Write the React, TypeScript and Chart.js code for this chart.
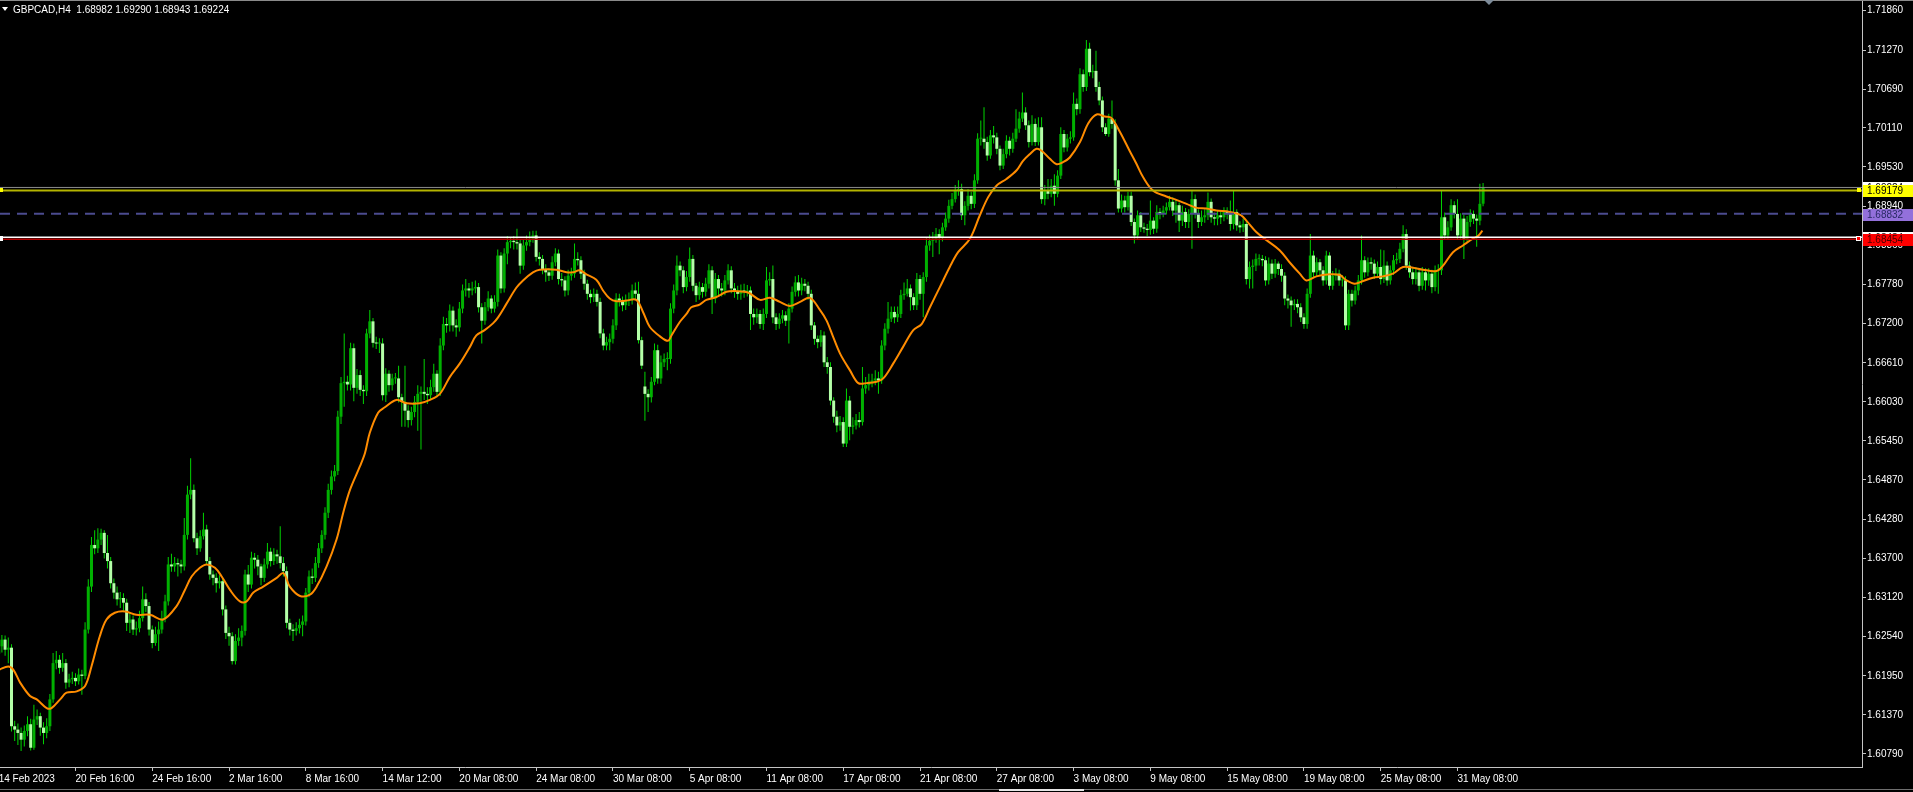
import React, { useEffect, useRef } from "react";
import { Chart, registerables } from "chart.js";

Chart.register(...registerables);

// ---------------- data (GBPCAD H4) ----------------
const symbolLabel = "GBPCAD,H4";

const opens = [
1.6228,1.6239,1.6249,1.6234,1.6237,1.6120,1.6115,1.6110,1.6100,1.6113,
1.6123,1.6088,1.6130,1.6135,1.6118,1.6110,1.6120,1.6160,1.6214,1.6219,
1.6207,1.6214,1.6185,1.6190,1.6192,1.6187,1.6197,1.6195,1.6264,1.6328,
1.6390,1.6385,1.6398,1.6408,1.6378,1.6366,1.6333,1.6319,1.6309,1.6311,
1.6304,1.6274,1.6279,1.6264,1.6266,1.6281,1.6309,1.6299,1.6264,1.6244,
1.6257,1.6264,1.6281,1.6306,1.6361,1.6358,1.6363,1.6361,1.6358,1.6405,
1.6465,1.6472,1.6400,1.6385,1.6403,1.6413,1.6366,1.6346,1.6341,1.6333,
1.6336,1.6294,1.6259,1.6254,1.6217,1.6247,1.6252,1.6262,1.6346,1.6331,
1.6371,1.6368,1.6358,1.6341,1.6361,1.6380,1.6366,1.6376,1.6373,1.6363,
1.6351,1.6274,1.6264,1.6262,1.6266,1.6271,1.6276,1.6319,1.6343,1.6341,
1.6363,1.6385,1.6405,1.6438,1.6472,1.6492,1.6500,1.6581,1.6631,1.6633,
1.6629,1.6683,1.6624,1.6643,1.6621,1.6619,1.6705,1.6723,1.6691,1.6690,
1.6690,1.6613,1.6645,1.6628,1.6638,1.6638,1.6610,1.6603,1.6590,1.6576,
1.6588,1.6603,1.6615,1.6618,1.6615,1.6613,1.6625,1.6645,1.6618,1.6687,
1.6719,1.6717,1.6739,1.6717,1.6714,1.6742,1.6769,1.6772,1.6769,1.6772,
1.6774,1.6744,1.6724,1.6744,1.6757,1.6742,1.6752,1.6821,1.6772,1.6824,
1.6841,1.6843,1.6841,1.6839,1.6806,1.6836,1.6841,1.6846,1.6851,1.6819,
1.6816,1.6801,1.6796,1.6791,1.6811,1.6824,1.6786,1.6784,1.6769,1.6791,
1.6794,1.6816,1.6814,1.6794,1.6779,1.6764,1.6759,1.6764,1.6752,1.6705,
1.6687,1.6692,1.6697,1.6717,1.6757,1.6754,1.6747,1.6754,1.6755,1.6769,
1.6764,1.6695,1.6626,1.6615,1.6610,1.6633,1.6680,1.6638,1.6662,1.6667,
1.6667,1.6742,1.6769,1.6806,1.6799,1.6774,1.6789,1.6816,1.6776,1.6762,
1.6774,1.6767,1.6779,1.6799,1.6757,1.6786,1.6772,1.6769,1.6784,1.6799,
1.6772,1.6767,1.6764,1.6769,1.6767,1.6769,1.6734,1.6729,1.6734,1.6719,
1.6734,1.6784,1.6786,1.6729,1.6719,1.6727,1.6732,1.6724,1.6742,1.6767,
1.6781,1.6769,1.6779,1.6776,1.6764,1.6717,1.6697,1.6692,1.6702,1.6662,
1.6655,1.6605,1.6581,1.6568,1.6573,1.6541,1.6605,1.6566,1.6568,1.6576,
1.6573,1.6623,1.6628,1.6633,1.6635,1.6638,1.6635,1.6687,1.6712,1.6727,
1.6737,1.6729,1.6734,1.6762,1.6764,1.6772,1.6759,1.6747,1.6786,1.6764,
1.6789,1.6836,1.6843,1.6846,1.6853,1.6848,1.6863,1.6876,1.6895,1.6905,
1.6918,1.6920,1.6881,1.6895,1.6910,1.6898,1.6933,1.6995,1.6995,1.6990,
1.6970,1.7000,1.6997,1.6980,1.6955,1.6972,1.6992,1.6980,1.6995,1.7010,
1.7025,1.7034,1.7015,1.6990,1.7017,1.6990,1.7012,1.6905,1.6918,1.6913,
1.6925,1.6913,1.6940,1.7002,1.6982,1.6995,1.6997,1.7047,1.7039,1.7091,
1.7072,1.7129,1.7094,1.7096,1.7072,1.7052,1.7012,1.7002,1.7025,1.7017,
1.6933,1.6891,1.6903,1.6893,1.6910,1.6871,1.6851,1.6881,1.6863,1.6861,
1.6859,1.6873,1.6861,1.6886,1.6883,1.6888,1.6893,1.6901,1.6888,1.6896,
1.6873,1.6886,1.6871,1.6883,1.6905,1.6883,1.6871,1.6878,1.6881,1.6901,
1.6878,1.6876,1.6881,1.6878,1.6886,1.6883,1.6868,1.6886,1.6866,1.6863,
1.6868,1.6786,1.6804,1.6806,1.6816,1.6816,1.6814,1.6784,1.6809,1.6794,
1.6809,1.6801,1.6791,1.6757,1.6754,1.6747,1.6749,1.6744,1.6729,1.6719,
1.6764,1.6821,1.6796,1.6811,1.6799,1.6784,1.6821,1.6776,1.6791,1.6794,
1.6784,1.6784,1.6717,1.6764,1.6754,1.6769,1.6784,1.6814,1.6796,1.6811,
1.6809,1.6794,1.6804,1.6786,1.6806,1.6784,1.6799,1.6814,1.6816,1.6831,
1.6853,1.6806,1.6796,1.6786,1.6796,1.6776,1.6796,1.6784,1.6794,1.6774,
1.6799,1.6799,1.6878,1.6851,1.6863,1.6896,1.6883,1.6851,1.6876,1.6846,
1.6871,1.6883,1.6876,1.6873,1.68982
];

const highs = [
1.6259,1.6256,1.6255,1.6252,1.6242,1.6128,1.6124,1.6118,1.6121,1.6135,
1.6131,1.6152,1.6145,1.6140,1.6126,1.6132,1.6168,1.6229,1.6232,1.6226,
1.6229,1.6220,1.6198,1.6201,1.6199,1.6206,1.6204,1.6275,1.6339,1.6402,
1.6412,1.6415,1.6414,1.6412,1.6405,1.6372,1.6340,1.6328,1.6320,1.6318,
1.6310,1.6290,1.6285,1.6276,1.6292,1.6328,1.6318,1.6305,1.6270,1.6268,
1.6276,1.6292,1.6316,1.6372,1.6377,1.6372,1.6370,1.6368,1.6430,1.6478,
1.6519,1.6480,1.6408,1.6412,1.6438,1.6420,1.6372,1.6352,1.6348,1.6345,
1.6340,1.6300,1.6268,1.6260,1.6257,1.6266,1.6270,1.6353,1.6360,1.6380,
1.6378,1.6375,1.6362,1.6370,1.6393,1.6386,1.6385,1.6383,1.6418,1.6372,
1.6358,1.6280,1.6272,1.6275,1.6280,1.6285,1.6326,1.6352,1.6355,1.6372,
1.6393,1.6412,1.6446,1.6481,1.6501,1.6509,1.6590,1.6640,1.6705,1.6642,
1.6691,1.6690,1.6652,1.6650,1.6628,1.6712,1.6740,1.6728,1.6700,1.6698,
1.6698,1.6653,1.6650,1.6645,1.6646,1.6657,1.6615,1.6657,1.6598,1.6596,
1.6612,1.6628,1.6626,1.6667,1.6625,1.6636,1.6660,1.6650,1.6698,1.6730,
1.6728,1.6748,1.6745,1.6726,1.6752,1.6778,1.6786,1.6780,1.6782,1.6784,
1.6780,1.6750,1.6752,1.6768,1.6762,1.6762,1.6830,1.6826,1.6832,1.6850,
1.6848,1.6850,1.6861,1.6845,1.6845,1.6851,1.6857,1.6858,1.6858,1.6826,
1.6822,1.6808,1.6802,1.6820,1.6832,1.6830,1.6795,1.6790,1.6800,1.6803,
1.6839,1.6826,1.6820,1.6800,1.6785,1.6770,1.6772,1.6770,1.6758,1.6712,
1.6700,1.6705,1.6726,1.6765,1.6764,1.6760,1.6763,1.6766,1.6778,1.6781,
1.6782,1.6700,1.6648,1.6622,1.6640,1.6690,1.6688,1.6672,1.6675,1.6677,
1.6750,1.6778,1.6821,1.6812,1.6805,1.6798,1.6833,1.6822,1.6780,1.6782,
1.6780,1.6788,1.6808,1.6805,1.6795,1.6792,1.6780,1.6792,1.6808,1.6805,
1.6780,1.6776,1.6778,1.6779,1.6777,1.6775,1.6742,1.6742,1.6740,1.6742,
1.6804,1.6796,1.6806,1.6735,1.6735,1.6740,1.6738,1.6750,1.6775,1.6790,
1.6792,1.6788,1.6786,1.6782,1.6770,1.6722,1.6702,1.6710,1.6708,1.6670,
1.6662,1.6610,1.6590,1.6582,1.6580,1.6623,1.6612,1.6580,1.6585,1.6588,
1.6655,1.6640,1.6645,1.6645,1.6650,1.6648,1.6695,1.6720,1.6752,1.6745,
1.6745,1.6745,1.6770,1.6781,1.6786,1.6778,1.6765,1.6795,1.6792,1.6796,
1.6848,1.6852,1.6856,1.6862,1.6860,1.6870,1.6885,1.6904,1.6914,1.6926,
1.6933,1.6928,1.6902,1.6920,1.6916,1.6942,1.7003,1.7022,1.7042,1.6998,
1.7008,1.7014,1.7004,1.6985,1.6980,1.7000,1.6998,1.7004,1.7039,1.7035,
1.7064,1.7042,1.7022,1.7030,1.7025,1.7027,1.7027,1.6926,1.6935,1.6935,
1.6942,1.6948,1.7012,1.7008,1.7002,1.7006,1.7064,1.7055,1.7100,1.7098,
1.7142,1.7138,1.7105,1.7126,1.7080,1.7058,1.7018,1.7032,1.7052,1.7024,
1.6950,1.6912,1.6910,1.6916,1.6916,1.6876,1.6888,1.6886,1.6870,1.6868,
1.6903,1.6878,1.6896,1.6892,1.6895,1.6900,1.6910,1.6908,1.6905,1.6900,
1.6895,1.6892,1.6890,1.6918,1.6912,1.6890,1.6888,1.6890,1.6915,1.6906,
1.6885,1.6888,1.6888,1.6893,1.6893,1.6903,1.6918,1.6890,1.6872,1.6876,
1.6873,1.6812,1.6815,1.6824,1.6823,1.6822,1.6820,1.6818,1.6815,1.6816,
1.6812,1.6808,1.6796,1.6763,1.6760,1.6756,1.6756,1.6750,1.6735,1.6772,
1.6853,1.6828,1.6818,1.6816,1.6805,1.6828,1.6826,1.6798,1.6802,1.6800,
1.6792,1.6790,1.6770,1.6770,1.6776,1.6792,1.6851,1.6820,1.6818,1.6818,
1.6815,1.6812,1.6830,1.6829,1.6812,1.6806,1.6822,1.6825,1.6840,1.6866,
1.6860,1.6812,1.6802,1.6804,1.6800,1.6804,1.6802,1.6802,1.6800,1.6806,
1.6808,1.6918,1.6885,1.6872,1.6905,1.6902,1.6905,1.6884,1.6882,1.6880,
1.6890,1.6888,1.6882,1.6928,1.69290
];

const lows = [
1.6218,1.6230,1.6225,1.6214,1.6112,1.6098,1.6092,1.6083,1.6090,1.6105,
1.6084,1.6085,1.6122,1.6106,1.6093,1.6102,1.6113,1.6155,1.6205,1.6198,
1.6201,1.6176,1.6178,1.6183,1.6180,1.6182,1.6167,1.6190,1.6258,1.6320,
1.6376,1.6378,1.6390,1.6370,1.6355,1.6325,1.6310,1.6300,1.6296,1.6292,
1.6262,1.6259,1.6256,1.6255,1.6260,1.6276,1.6290,1.6255,1.6236,1.6240,
1.6232,1.6258,1.6275,1.6300,1.6350,1.6350,1.6343,1.6348,1.6352,1.6398,
1.6458,1.6394,1.6375,1.6380,1.6398,1.6360,1.6338,1.6330,1.6319,1.6325,
1.6285,1.6250,1.6240,1.6212,1.6212,1.6240,1.6239,1.6255,1.6320,1.6325,
1.6355,1.6345,1.6330,1.6335,1.6355,1.6358,1.6360,1.6362,1.6355,1.6343,
1.6266,1.6255,1.6247,1.6255,1.6258,1.6254,1.6270,1.6312,1.6332,1.6335,
1.6356,1.6378,1.6398,1.6430,1.6465,1.6485,1.6494,1.6570,1.6596,1.6620,
1.6620,1.6604,1.6615,1.6612,1.6600,1.6612,1.6698,1.6684,1.6682,1.6676,
1.6605,1.6603,1.6618,1.6620,1.6630,1.6602,1.6566,1.6566,1.6565,1.6568,
1.6580,1.6560,1.6532,1.6606,1.6600,1.6606,1.6618,1.6610,1.6612,1.6680,
1.6706,1.6708,1.6708,1.6700,1.6708,1.6735,1.6760,1.6758,1.6762,1.6765,
1.6736,1.6690,1.6718,1.6738,1.6735,1.6736,1.6745,1.6765,1.6766,1.6808,
1.6832,1.6830,1.6830,1.6794,1.6800,1.6828,1.6835,1.6840,1.6812,1.6806,
1.6793,1.6782,1.6783,1.6785,1.6805,1.6778,1.6775,1.6760,1.6762,1.6784,
1.6788,1.6806,1.6786,1.6770,1.6755,1.6750,1.6752,1.6745,1.6698,1.6680,
1.6680,1.6680,1.6690,1.6710,1.6745,1.6738,1.6740,1.6746,1.6748,1.6755,
1.6690,1.6652,1.6575,1.6588,1.6602,1.6628,1.6630,1.6630,1.6655,1.6650,
1.6660,1.6735,1.6762,1.6790,1.6765,1.6768,1.6782,1.6768,1.6752,1.6755,
1.6758,1.6760,1.6772,1.6734,1.6750,1.6762,1.6760,1.6762,1.6778,1.6765,
1.6758,1.6755,1.6755,1.6758,1.6760,1.6710,1.6718,1.6720,1.6712,1.6710,
1.6728,1.6776,1.6720,1.6710,1.6712,1.6720,1.6716,1.6690,1.6736,1.6760,
1.6760,1.6762,1.6768,1.6755,1.6710,1.6688,1.6683,1.6685,1.6655,1.6645,
1.6598,1.6572,1.6558,1.6560,1.6536,1.6536,1.6546,1.6555,1.6562,1.6565,
1.6568,1.6615,1.6620,1.6625,1.6628,1.6615,1.6630,1.6680,1.6705,1.6722,
1.6720,1.6722,1.6728,1.6755,1.6760,1.6739,1.6740,1.6740,1.6755,1.6729,
1.6782,1.6828,1.6819,1.6840,1.6823,1.6842,1.6858,1.6870,1.6890,1.6900,
1.6910,1.6874,1.6866,1.6888,1.6890,1.6892,1.6928,1.6985,1.6980,1.6962,
1.6965,1.6988,1.6972,1.6948,1.6950,1.6966,1.6970,1.6974,1.6990,1.7004,
1.7020,1.7008,1.6982,1.6985,1.6984,1.6985,1.6898,1.6896,1.6905,1.6908,
1.6895,1.6908,1.6935,1.6975,1.6976,1.6988,1.6992,1.7030,1.7032,1.7065,
1.7066,1.7088,1.7085,1.7065,1.7045,1.7005,1.6999,1.6998,1.7010,1.6925,
1.6885,1.6885,1.6885,1.6888,1.6865,1.6839,1.6846,1.6856,1.6855,1.6850,
1.6852,1.6853,1.6855,1.6875,1.6878,1.6882,1.6888,1.6880,1.6870,1.6856,
1.6865,1.6862,1.6862,1.6831,1.6876,1.6862,1.6865,1.6870,1.6874,1.6870,
1.6866,1.6866,1.6868,1.6872,1.6875,1.6858,1.6860,1.6858,1.6855,1.6856,
1.6778,1.6772,1.6772,1.6798,1.6806,1.6805,1.6776,1.6778,1.6786,1.6788,
1.6792,1.6782,1.6747,1.6742,1.6715,1.6740,1.6735,1.6722,1.6712,1.6712,
1.6758,1.6788,1.6790,1.6792,1.6776,1.6778,1.6770,1.6770,1.6784,1.6776,
1.6775,1.6710,1.6710,1.6745,1.6748,1.6762,1.6778,1.6788,1.6790,1.6800,
1.6786,1.6788,1.6778,1.6780,1.6776,1.6778,1.6792,1.6808,1.6810,1.6826,
1.6800,1.6788,1.6778,1.6778,1.6768,1.6770,1.6769,1.6776,1.6765,1.6768,
1.6764,1.6792,1.6844,1.6845,1.6858,1.6876,1.6844,1.6845,1.6816,1.6840,
1.6864,1.6868,1.6834,1.6866,1.68943
];

const closes = [
1.6239,1.6249,1.6234,1.6237,1.6120,1.6115,1.6110,1.6100,1.6113,1.6123,
1.6088,1.6130,1.6135,1.6118,1.6110,1.6120,1.6160,1.6214,1.6219,1.6207,
1.6214,1.6185,1.6190,1.6192,1.6187,1.6197,1.6195,1.6264,1.6328,1.6390,
1.6385,1.6398,1.6408,1.6378,1.6366,1.6333,1.6319,1.6309,1.6311,1.6304,
1.6274,1.6279,1.6264,1.6266,1.6281,1.6309,1.6299,1.6264,1.6244,1.6257,
1.6264,1.6281,1.6306,1.6361,1.6358,1.6363,1.6361,1.6358,1.6405,1.6465,
1.6472,1.6400,1.6385,1.6403,1.6413,1.6366,1.6346,1.6341,1.6333,1.6336,
1.6294,1.6259,1.6254,1.6217,1.6247,1.6252,1.6262,1.6346,1.6331,1.6371,
1.6368,1.6358,1.6341,1.6361,1.6380,1.6366,1.6376,1.6373,1.6363,1.6351,
1.6274,1.6264,1.6262,1.6266,1.6271,1.6276,1.6319,1.6343,1.6341,1.6363,
1.6385,1.6405,1.6438,1.6472,1.6492,1.6500,1.6581,1.6631,1.6633,1.6629,
1.6683,1.6624,1.6643,1.6621,1.6619,1.6705,1.6723,1.6691,1.6690,1.6690,
1.6613,1.6645,1.6628,1.6638,1.6638,1.6610,1.6603,1.6590,1.6576,1.6588,
1.6603,1.6615,1.6618,1.6615,1.6613,1.6625,1.6645,1.6618,1.6687,1.6719,
1.6717,1.6739,1.6717,1.6714,1.6742,1.6769,1.6772,1.6769,1.6772,1.6774,
1.6744,1.6724,1.6744,1.6757,1.6742,1.6752,1.6821,1.6772,1.6824,1.6841,
1.6843,1.6841,1.6839,1.6806,1.6836,1.6841,1.6846,1.6851,1.6819,1.6816,
1.6801,1.6796,1.6791,1.6811,1.6824,1.6786,1.6784,1.6769,1.6791,1.6794,
1.6816,1.6814,1.6794,1.6779,1.6764,1.6759,1.6764,1.6752,1.6705,1.6687,
1.6692,1.6697,1.6717,1.6757,1.6754,1.6747,1.6754,1.6755,1.6769,1.6764,
1.6695,1.6657,1.6615,1.6610,1.6633,1.6680,1.6638,1.6662,1.6667,1.6667,
1.6742,1.6769,1.6806,1.6799,1.6774,1.6789,1.6816,1.6776,1.6762,1.6774,
1.6767,1.6779,1.6799,1.6757,1.6786,1.6772,1.6769,1.6784,1.6799,1.6772,
1.6767,1.6764,1.6769,1.6767,1.6769,1.6734,1.6729,1.6734,1.6719,1.6734,
1.6784,1.6786,1.6729,1.6719,1.6727,1.6732,1.6724,1.6742,1.6767,1.6781,
1.6769,1.6779,1.6776,1.6764,1.6717,1.6697,1.6692,1.6702,1.6662,1.6655,
1.6605,1.6581,1.6568,1.6573,1.6541,1.6605,1.6566,1.6568,1.6576,1.6573,
1.6623,1.6628,1.6633,1.6635,1.6638,1.6635,1.6687,1.6712,1.6727,1.6737,
1.6729,1.6734,1.6762,1.6764,1.6772,1.6759,1.6747,1.6786,1.6764,1.6789,
1.6836,1.6843,1.6846,1.6853,1.6848,1.6863,1.6876,1.6895,1.6905,1.6918,
1.6920,1.6881,1.6895,1.6910,1.6898,1.6933,1.6995,1.6995,1.6990,1.6970,
1.7000,1.6997,1.6980,1.6955,1.6972,1.6992,1.6980,1.6995,1.7010,1.7025,
1.7034,1.7015,1.6990,1.7017,1.6990,1.7012,1.6905,1.6918,1.6913,1.6925,
1.6913,1.6940,1.7002,1.6982,1.6995,1.6997,1.7047,1.7039,1.7091,1.7072,
1.7129,1.7094,1.7096,1.7072,1.7052,1.7012,1.7002,1.7025,1.7017,1.6933,
1.6891,1.6903,1.6893,1.6910,1.6871,1.6851,1.6881,1.6863,1.6861,1.6859,
1.6873,1.6861,1.6886,1.6883,1.6888,1.6893,1.6901,1.6888,1.6896,1.6873,
1.6886,1.6871,1.6883,1.6905,1.6883,1.6871,1.6878,1.6881,1.6901,1.6878,
1.6876,1.6881,1.6878,1.6886,1.6883,1.6868,1.6886,1.6866,1.6863,1.6868,
1.6786,1.6804,1.6806,1.6816,1.6816,1.6814,1.6784,1.6809,1.6794,1.6809,
1.6801,1.6791,1.6757,1.6754,1.6747,1.6749,1.6744,1.6729,1.6719,1.6764,
1.6821,1.6796,1.6811,1.6799,1.6784,1.6821,1.6776,1.6791,1.6794,1.6784,
1.6784,1.6717,1.6764,1.6754,1.6769,1.6784,1.6814,1.6796,1.6811,1.6809,
1.6794,1.6804,1.6786,1.6806,1.6784,1.6799,1.6814,1.6816,1.6831,1.6853,
1.6806,1.6796,1.6786,1.6796,1.6776,1.6796,1.6784,1.6794,1.6774,1.6799,
1.6799,1.6878,1.6851,1.6863,1.6896,1.6883,1.6851,1.6876,1.6846,1.6871,
1.6883,1.6876,1.6873,1.6898,1.69224
];

// moving average, read at bar positions
const maIndex = [
0,3,4.6,6.7,9.8,11.9,15,16.5,19.2,21.2,24.4,27,29,31.6,33.7,36.3,39.5,43,47.3,51.4,
55.6,58.2,60.3,62.9,65,67.6,69.7,72.3,75.4,77.5,79.6,82.7,86.9,89,91,94.2,97.3,99.4,102.5,105.6,
107.7,109.8,112.9,114.5,116,118.6,
120.7,124.3,127.5,131.6,134.8,137.9,141,144.1,147.3,149.3,151.9,154.5,156.1,158.7,161.8,163.9,167,169.1,174.3,177.5,
179.5,181.6,183.7,186.8,188.9,191,193.1,196.2,199.3,201.4,203.5,206.6,209.2,210.3,212.9,215,216.5,219.1,221.2,224.3,
227.5,230.6,234.2,
238,241.1,244.2,247.3,250.5,253.6,256.7,258.8,260.9,263,266.1,268.7,271.3,274.4,276.5,279.6,282.7,285.9,288.5,291.1,
294.2,297.3,299.9,303.6,306.7,309.3,311.9,315,318.2,320.2,322.3,324.4,326,328.6,330.7,332.7,334.8,338,340.6,343.2,
345.8,347.8,350.5,
353.5,355.6,357.7,360.8,365,368.1,371.3,374.4,377.5,380.6,384.8,388.4,390,393.1,396.3,400.4,403.5,406.7,408.8,411.9,
416,419.2,421.3,423.9,426.5,429.6,432.7,435.8,439,442.1,445.2,449.4,451.5,454.6,457.7,460.8,462.4,463.8
];
const maValues = [
1.6204,1.6209,1.6204,1.6185,1.6165,1.6160,1.6147,1.6147,1.6160,1.6170,1.6172,1.6180,1.6209,1.6254,1.6279,1.6289,1.6291,1.6286,1.6286,1.6279,
1.6299,1.6323,1.6343,1.6356,1.6361,1.6356,1.6343,1.6323,1.6306,1.6306,1.6319,1.6328,1.6341,1.6348,1.6328,1.6314,1.6316,1.6328,1.6358,1.6398,
1.6438,1.6472,1.6507,1.6527,1.6557,1.6587,
1.6595,1.6606,1.6601,1.6601,1.6606,1.6615,1.6640,1.6660,1.6685,1.6702,1.6710,1.6720,1.6729,1.6749,1.6773,1.6784,1.6796,1.6800,1.6800,1.6796,
1.6796,1.6799,1.6793,1.6785,1.6769,1.6757,1.6753,1.6754,1.6755,1.6737,1.6715,1.6701,1.6694,1.6702,1.6722,1.6734,1.6744,1.6748,1.6755,1.6759,
1.6767,1.6768,1.6766,
1.6755,1.6758,1.6752,1.6746,1.6752,1.6758,1.6740,1.6724,1.6699,1.6675,1.6650,1.6631,1.6631,1.6633,1.6638,1.6660,1.6685,1.6710,1.6719,1.6744,
1.6774,1.6804,1.6826,1.6846,1.6881,1.6908,1.6925,1.6935,1.6948,1.6962,1.6972,1.6980,1.6977,1.6965,1.6957,1.6960,1.6967,1.6990,1.7018,1.7031,
1.7028,1.7026,1.7005,
1.6977,1.6958,1.6938,1.6918,1.6909,1.6904,1.6898,1.6892,1.6891,1.6888,1.6886,1.6881,1.6873,1.6856,1.6844,1.6829,1.6811,1.6794,1.6784,1.6790,
1.6793,1.6792,1.6784,1.6779,1.6783,1.6788,1.6790,1.6794,1.6804,1.6803,1.6800,1.6798,1.6806,1.6826,1.6836,1.6846,1.6850,1.6858
];

const priceTicks = [
1.7186,1.7127,1.7069,1.7011,1.6953,1.6894,1.6836,1.6778,1.672,1.6661,
1.6603,1.6545,1.6487,1.6428,1.637,1.6312,1.6254,1.6195,1.6137,1.6079
];
const timeTickIndex = [0,24,48,72,96,120,144,168,192,216,240,264,288,312,336,360,384,408,432,456];
const timeTickLabels = [
"14 Feb 2023","20 Feb 16:00","24 Feb 16:00","2 Mar 16:00","8 Mar 16:00","14 Mar 12:00",
"20 Mar 08:00","24 Mar 08:00","30 Mar 08:00","5 Apr 08:00","11 Apr 08:00","17 Apr 08:00",
"21 Apr 08:00","27 Apr 08:00","3 May 08:00","9 May 08:00","15 May 08:00","19 May 08:00",
"25 May 08:00","31 May 08:00"
];

const bidLevel = 1.69224;
const yellowLevel = 1.69179;
const dashedLevel = 1.68832;
const whiteLevel = 1.68484;
const redLevel = 1.68454;

// ---------------- layout / style ----------------
const W = 1913;
const H = 792;
const X_MIN = 0.406;
const X_MAX = 582.45;
const Y_MIN = 1.60593;
const Y_MAX = 1.72001;
const FONT = '"Liberation Sans", Arial, sans-serif';
const WICK = "#00d400";
const BULL = "#00b000";
const BEAR = "#b4ffa8";
const AXIS = "#c4c4c4";

const levelLine = (v: number, color: string, width: number, dash: number[] = []) => ({
  type: "line" as const,
  data: [{ x: X_MIN, y: v }, { x: X_MAX, y: v }],
  borderColor: color,
  borderWidth: width,
  borderDash: dash,
  pointRadius: 0,
  order: 0,
});

const overlayPlugin = {
  id: "mtOverlay",
  afterDraw(chart: any) {
    const ctx = chart.ctx as CanvasRenderingContext2D;
    const ys = chart.scales.y;
    const area = chart.chartArea;
    ctx.save();
    // window frame lines
    ctx.fillStyle = "#8a8a8a";
    ctx.fillRect(0, 0, W, 1);
    ctx.fillStyle = "#6e6e6e";
    ctx.fillRect(0, 789, W, 1);
    ctx.fillStyle = "#e6e6e6";
    ctx.fillRect(999, 789, 85, 2);
    // chart shift marker
    ctx.fillStyle = "#7d8b99";
    ctx.beginPath();
    ctx.moveTo(1484, 0);
    ctx.lineTo(1494, 0);
    ctx.lineTo(1489, 5);
    ctx.closePath();
    ctx.fill();

    // price labels on the axis
    const box = (v: number, bg: string, fg: string) => {
      const py = Math.round(ys.getPixelForValue(v));
      ctx.fillStyle = bg;
      ctx.fillRect(area.right + 1, py - 5, W - area.right - 1, 12);
      ctx.fillStyle = fg;
      ctx.font = "10px " + FONT;
      ctx.textBaseline = "middle";
      ctx.textAlign = "left";
      ctx.fillText(v.toFixed(5), area.right + 5, py + 1.5);
    };
    box(bidLevel, "#ffffff", "#000000");
    box(yellowLevel, "#ffff00", "#000000");
    box(dashedLevel, "#9370db", "#2a2a66");
    box(whiteLevel, "#ffffff", "#000000");
    box(redLevel, "#ff0000", "#4a0000");

    // line handles
    const yy = Math.round(ys.getPixelForValue(yellowLevel));
    ctx.fillStyle = "#ffff00";
    ctx.fillRect(0, yy - 2, 3, 4);
    ctx.fillRect(area.right - 5, yy - 2, 4, 4);
    const ry = Math.round(ys.getPixelForValue(redLevel));
    ctx.fillStyle = "#ffffff";
    ctx.fillRect(0, ry - 3, 3, 5);
    ctx.fillRect(area.right - 6, ry - 3, 5, 5);
    ctx.fillStyle = "#ff0000";
    ctx.fillRect(area.right - 5, ry - 2, 3, 3);
    ctx.restore();
  },
};

export default function App() {
  const canvasRef = useRef<HTMLCanvasElement>(null);

  useEffect(() => {
    document.body.style.margin = "0";
    document.body.style.background = "#000";
    const canvas = canvasRef.current;
    if (!canvas) return;

    const bodyColors = closes.map((c, i) => (c >= opens[i] ? BULL : BEAR));

    const chart = new Chart(canvas, {
      type: "bar",
      data: {
        datasets: [
          levelLine(bidLevel, "#8c8c8c", 1),
          levelLine(yellowLevel, "#b4b400", 2),
          levelLine(dashedLevel, "#4b4b8f", 2, [10, 7]),
          levelLine(whiteLevel, "#ffffff", 1.5),
          levelLine(redLevel, "#b40000", 1.5),
          {
            type: "line",
            data: maIndex.map((x, k) => ({ x, y: maValues[k] })),
            borderColor: "#ff8c00",
            borderWidth: 2,
            pointRadius: 0,
            tension: 0.35,
            order: 1,
          } as any,
          {
            type: "bar",
            data: closes.map((c, i) => ({ x: i, y: [opens[i], c] })),
            backgroundColor: bodyColors,
            borderWidth: 0,
            barThickness: 3,
            maxBarThickness: 3,
            minBarLength: 1,
            grouped: false,
            inflateAmount: 0,
            order: 2,
          } as any,
          {
            type: "bar",
            data: closes.map((_, i) => ({ x: i, y: [lows[i], highs[i]] })),
            backgroundColor: WICK,
            borderWidth: 0,
            barThickness: 1,
            maxBarThickness: 1,
            grouped: false,
            inflateAmount: 0,
            order: 3,
          } as any,
        ] as any,
      },
      options: {
        responsive: false,
        animation: false,
        devicePixelRatio: 1,
        events: [],
        layout: { padding: { top: 1, left: 0, right: 0, bottom: 0 } },
        plugins: { legend: { display: false }, tooltip: { enabled: false } },
        scales: {
          x: {
            type: "linear",
            min: X_MIN,
            max: X_MAX,
            offset: false,
            afterBuildTicks: (s: any) => {
              s.ticks = timeTickIndex.map((v) => ({ value: v }));
            },
            afterFit: (s: any) => {
              s.height = 25;
              s.paddingLeft = 0;
              s.paddingRight = 0;
            },
            ticks: {
              color: "#ffffff",
              font: { family: FONT, size: 10 },
              padding: 2,
              autoSkip: false,
              maxRotation: 0,
              minRotation: 0,
              align: "start",
              callback: (_v: any, i: number) => timeTickLabels[i],
            },
            grid: { drawOnChartArea: false, drawTicks: true, tickLength: 4, color: AXIS, offset: false },
            border: { display: true, color: AXIS, width: 1 },
          },
          y: {
            type: "linear",
            position: "right",
            min: Y_MIN,
            max: Y_MAX,
            afterBuildTicks: (s: any) => {
              s.ticks = priceTicks.map((v) => ({ value: v }));
            },
            afterFit: (s: any) => {
              s.width = 51;
              s.paddingTop = 0;
              s.paddingBottom = 0;
            },
            ticks: {
              color: "#ffffff",
              font: { family: FONT, size: 10 },
              padding: 1,
              autoSkip: false,
              callback: (v: any) => Number(v).toFixed(5),
            },
            grid: { drawOnChartArea: false, drawTicks: true, tickLength: 4, color: AXIS },
            border: { display: true, color: AXIS, width: 1 },
          },
        },
      } as any,
      plugins: [overlayPlugin],
    });

    return () => chart.destroy();
  }, []);

  const last = closes.length - 1;
  const headerValues = [opens[last], highs[last], lows[last], closes[last]].map((v) => v.toFixed(5)).join(" ");

  return (
    <div style={{ position: "fixed", left: 0, top: 0, width: W, height: H, background: "#000", overflow: "hidden" }}>
      <canvas ref={canvasRef} width={W} height={H} style={{ display: "block", width: W, height: H }} />
      <div
        style={{
          position: "absolute",
          left: 2,
          top: 7,
          width: 0,
          height: 0,
          borderLeft: "3px solid transparent",
          borderRight: "3px solid transparent",
          borderTop: "4px solid #ffffff",
        }}
      />
      <div
        style={{
          position: "absolute",
          left: 13,
          top: 3,
          color: "#ffffff",
          fontFamily: FONT,
          fontSize: 10,
          lineHeight: "14px",
          whiteSpace: "pre",
        }}
      >
        {symbolLabel + "  " + headerValues}
      </div>
    </div>
  );
}
